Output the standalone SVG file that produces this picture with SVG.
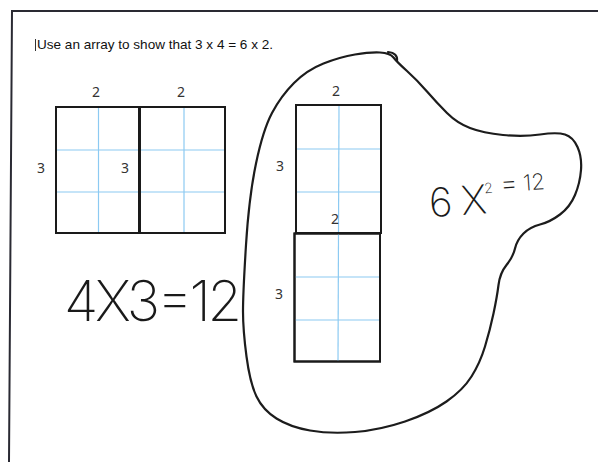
<svg xmlns="http://www.w3.org/2000/svg" width="598" height="462" viewBox="0 0 598 462">
  <style>
    .frame { fill: none; stroke: #2a2a33; stroke-width: 2; }
    .box { fill: #fff; stroke: #1a1a1a; stroke-width: 2; }
    .div { stroke: #1a1a1a; stroke-width: 3; }
    .grid { stroke: #8ccaf2; stroke-width: 1.2; }
    .lbl { font-family: "Noto Sans", "Open Sans", "Liberation Sans", sans-serif; font-size: 14px; fill: #333; text-anchor: middle; }
    .title { font-family: "Liberation Sans", Arial, sans-serif; font-size: 13px; fill: #111; }
    .hand { font-family: Inter, Lato, "Open Sans", "DejaVu Sans", sans-serif; font-weight: 200; fill: #1a1a1a; }
    .ink { fill: none; stroke: #1c1c1c; stroke-width: 2.2; stroke-linecap: round; stroke-linejoin: round; }
  </style>
  <rect width="598" height="462" fill="#fff"/>
  <path class="frame" d="M9,462 L12,11 L598,11"/>
  <g id="title">
    <line x1="35.5" y1="39" x2="35.5" y2="51" stroke="#333" stroke-width="1"/>
    <text class="title" x="37" y="48.5" textLength="236" lengthAdjust="spacingAndGlyphs">Use an array to show that 3 x 4 = 6 x 2.</text>
  </g>
  <g id="left-array">
    <rect class="box" x="56" y="107" width="169" height="126"/>
    <line class="grid" x1="98.5" y1="108" x2="98.5" y2="232"/>
    <line class="grid" x1="184" y1="108" x2="184" y2="232"/>
    <line class="grid" x1="57" y1="150" x2="224" y2="150"/>
    <line class="grid" x1="57" y1="192" x2="224" y2="192"/>
    <line class="div" x1="139.5" y1="106" x2="139.5" y2="234"/>
    <text class="lbl" x="96" y="97">2</text>
    <text class="lbl" x="181" y="97">2</text>
    <text class="lbl" x="41" y="173">3</text>
    <text class="lbl" x="125" y="173">3</text>
  </g>
  <g id="right-array">
    <rect class="box" x="296" y="105" width="85" height="128"/>
    <rect class="box" x="294.5" y="233.5" width="85.5" height="128"/>
    <line class="grid" x1="339" y1="106" x2="338" y2="361"/>
    <line class="grid" x1="297" y1="149" x2="380" y2="149"/>
    <line class="grid" x1="297" y1="192" x2="380" y2="192"/>
    <line class="grid" x1="295.5" y1="277" x2="379" y2="277"/>
    <line class="grid" x1="295.5" y1="320" x2="379" y2="320"/>
    <rect x="296" y="105" width="85" height="128" fill="none" stroke="#1a1a1a" stroke-width="2"/>
    <rect x="294.5" y="233.5" width="85.5" height="128" fill="none" stroke="#1a1a1a" stroke-width="2"/>
    <text class="lbl" x="336" y="96">2</text>
    <text class="lbl" x="280" y="171">3</text>
    <text class="lbl" x="335" y="224">2</text>
    <text class="lbl" x="279" y="299">3</text>
  </g>
  <g id="loop">
    <path class="ink" d="M246,245 Q249,197 256,163.5 Q263,130 272,113 Q281,96 294,83 Q307,70 323.5,63.5 Q340,57 355,54.5 Q370,52 380,52.5 Q390,53 393.5,57.5 Q397,62 407,71 Q417,80 427,91.5 Q437,103 447,113 Q457,123 470,128 Q483,133 503,135 Q523,137 540,134.5 Q557,132 565,134.5 Q573,137 577.5,147 Q582,157 581,170 Q580,183 575,195 Q570,207 560,214.5 Q550,222 540,224.5 Q530,227 523.5,233.5 Q517,240 515,248.5 Q513,257 506.5,265 Q500,273 498.5,285 Q497,297 493.5,313.5 Q490,330 485,346.5 Q480,363 471.5,376.5 Q463,390 446.5,401.5 Q430,413 405,421.5 Q380,430 355,432 Q330,434 310,430.5 Q290,427 276.5,418.5 Q263,410 256.5,396.5 Q250,383 246.5,356.5 Q243,330 243,311.5 Q243,293 246,245 Z"/>
    <path class="ink" d="M388,52 Q398,53 397,61"/>
  </g>
  <g id="eq-left">
    <text class="hand" x="64" y="321" font-size="56" textLength="178" lengthAdjust="spacing">4X3=12</text>
  </g>
  <g id="eq-right">
    <text class="hand" transform="rotate(-4 490 200)">
      <tspan x="429" y="213" font-size="40">6</tspan>
      <tspan x="461" y="213" font-size="40">X</tspan>
      <tspan x="485" y="193" font-size="14">2</tspan>
      <tspan x="501" y="194" font-size="28">=</tspan>
      <tspan x="524" y="193" font-size="22">12</tspan>
    </text>
  </g>
</svg>
